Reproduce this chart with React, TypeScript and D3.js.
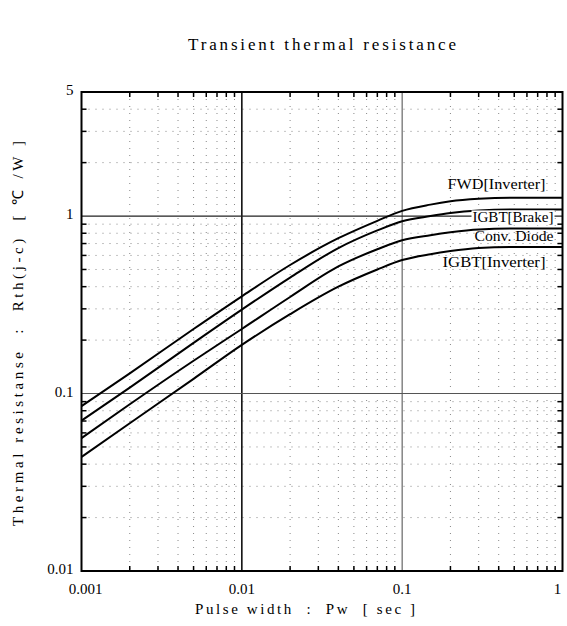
import React from 'react';
import * as d3 from 'd3';

const pulseWidths = [0.001, 0.002, 0.005, 0.01, 0.02, 0.04, 0.07, 0.1, 0.15, 0.2, 0.3, 0.5, 1];
const fwdInverter = [0.085, 0.13, 0.231, 0.353, 0.53, 0.75, 0.94, 1.07, 1.16, 1.21, 1.25, 1.27, 1.27];
const igbtBrake = [0.0703, 0.108, 0.193, 0.297, 0.45, 0.66, 0.83, 0.935, 1.0, 1.04, 1.075, 1.09, 1.09];
const convDiode = [0.0561, 0.087, 0.153, 0.231, 0.35, 0.52, 0.65, 0.73, 0.78, 0.81, 0.84, 0.85, 0.85];
const igbtInverter = [0.0439, 0.068, 0.121, 0.188, 0.28, 0.4, 0.5, 0.565, 0.61, 0.635, 0.66, 0.67, 0.67];

const seriesNames = ['FWD[Inverter]', 'IGBT[Brake]', 'Conv. Diode', 'IGBT[Inverter]'];
const seriesValues = [fwdInverter, igbtBrake, convDiode, igbtInverter];

const xTickValues = [0.001, 0.01, 0.1, 1];
const xTickLabels = ['0.001', '0.01', '0.1', '1'];
const yTickValues = [0.01, 0.1, 1, 5];
const yTickLabels = ['0.01', '0.1', '1', '5'];

const titleText = 'Transient thermal resistance';
const xTitle = 'Pulse width  :  Pw  [ sec ]';
const yTitle = 'Thermal resistanse  :  Rth(j-c)  [ \u2103 /W ]';

export default function App() {
  const W = 567, H = 626;
  const L = 81.5, R = 562.5, T = 92, B = 571;
  const x = d3.scaleLog().domain([0.001, 1]).range([L, R]);
  const y = d3.scaleLog().domain([0.01, 5]).range([B, T]);

  const minorX: number[] = [];
  [0.001, 0.01, 0.1].forEach((d) => { for (let k = 2; k <= 9; k++) minorX.push(d * k); });
  const minorY: number[] = [];
  [0.01, 0.1].forEach((d) => { for (let k = 2; k <= 9; k++) minorY.push(d * k); });
  [2, 3, 4].forEach((k) => minorY.push(k));

  const line = d3.line<[number, number]>()
    .x((d) => x(d[0]))
    .y((d) => y(d[1]))
    .curve(d3.curveMonotoneX);

  const font = '"Liberation Serif", serif';
  const labelCfg = [
    { dx: -17, dy: -12, bg: false, len: 98 },
    { dx: -9, dy: 9, bg: true, len: 81 },
    { dx: -9, dy: 9, bg: false, len: 79 },
    { dx: -17, dy: 17, bg: false, len: 103 },
  ];

  return (
    <svg width={W} height={H} style={{ position: 'absolute', left: 0, top: 0, background: '#fff' }} fontFamily={font}>
      <rect x={0} y={0} width={W} height={H} fill="#fff" />
      {minorX.map((v, i) => (
        <line key={'mx' + i} x1={x(v)} x2={x(v)} y1={T} y2={B} stroke="#888" strokeWidth={1} strokeDasharray="1,6" />
      ))}
      {minorY.map((v, i) => (
        <line key={'my' + i} x1={L} x2={R} y1={y(v)} y2={y(v)} stroke="#888" strokeWidth={1} strokeDasharray="1,6" />
      ))}
      {[0.01, 0.1].map((v, i) => (
        <line key={'Mx' + i} x1={x(v)} x2={x(v)} y1={T} y2={B} stroke={i === 0 ? '#111' : '#666'} strokeWidth={i === 0 ? 1.6 : 1.2} />
      ))}
      {[0.1, 1].map((v, i) => (
        <line key={'My' + i} x1={L} x2={R} y1={y(v)} y2={y(v)} stroke={i === 0 ? '#555' : '#222'} strokeWidth={1.2} />
      ))}
      {minorX.map((v, i) => (
        <g key={'tx' + i}>
          <line x1={x(v)} x2={x(v)} y1={B} y2={B - 5} stroke="#000" strokeWidth={1.5} />
          <line x1={x(v)} x2={x(v)} y1={T} y2={T + 5} stroke="#000" strokeWidth={1.5} />
        </g>
      ))}
      {minorY.map((v, i) => (
        <g key={'ty' + i}>
          <line x1={L} x2={L + 5} y1={y(v)} y2={y(v)} stroke="#000" strokeWidth={1.5} />
          <line x1={R} x2={R - 5} y1={y(v)} y2={y(v)} stroke="#000" strokeWidth={1.5} />
        </g>
      ))}
      {seriesValues.map((vals, i) => (
        <path key={'c' + i} d={line(pulseWidths.map((p, j) => [p, vals[j]] as [number, number])) || ''}
          fill="none" stroke="#000" strokeWidth={2} />
      ))}
      {seriesValues.map((vals, i) => {
        const cfg = labelCfg[i];
        const tx = R + cfg.dx;
        const ty = y(vals[vals.length - 1]) + cfg.dy;
        return (
          <g key={'l' + i}>
            {cfg.bg && <rect x={tx - cfg.len - 1} y={ty - 8} width={cfg.len + 2} height={15} fill="#fff" />}
            <text x={tx} y={ty} textAnchor="end" dominantBaseline="middle" fontSize={14} fill="#000"
              textLength={cfg.len} lengthAdjust="spacingAndGlyphs">{seriesNames[i]}</text>
          </g>
        );
      })}
      <rect x={L} y={T} width={R - L} height={B - T} fill="none" stroke="#000" strokeWidth={2} />
      {xTickValues.map((v, i) => (
        <text key={'xl' + i} x={x(v) + (i === 0 ? 4 : i === 3 ? -5 : 0)} y={594} textAnchor="middle" fontSize={15} fill="#000">
          {xTickLabels[i]}
        </text>
      ))}
      {yTickValues.map((v, i) => (
        <text key={'yl' + i} x={L - 8} y={y(v)} textAnchor="end" dominantBaseline="middle" fontSize={15} fill="#000">
          {yTickLabels[i]}
        </text>
      ))}
      <text x={322} y={50} textAnchor="middle" fontSize={17} fill="#000" textLength={268} lengthAdjust="spacing">{titleText}</text>
      <text x={305} y={614} textAnchor="middle" fontSize={15} fill="#000" style={{ whiteSpace: 'pre' }}
        textLength={220} lengthAdjust="spacing">{xTitle}</text>
      <text transform={`translate(23,${(T + B) / 2 + 2}) rotate(-90)`} textAnchor="middle" fontSize={15} fill="#000"
        style={{ whiteSpace: 'pre' }} textLength={385} lengthAdjust="spacing">{yTitle}</text>
    </svg>
  );
}
